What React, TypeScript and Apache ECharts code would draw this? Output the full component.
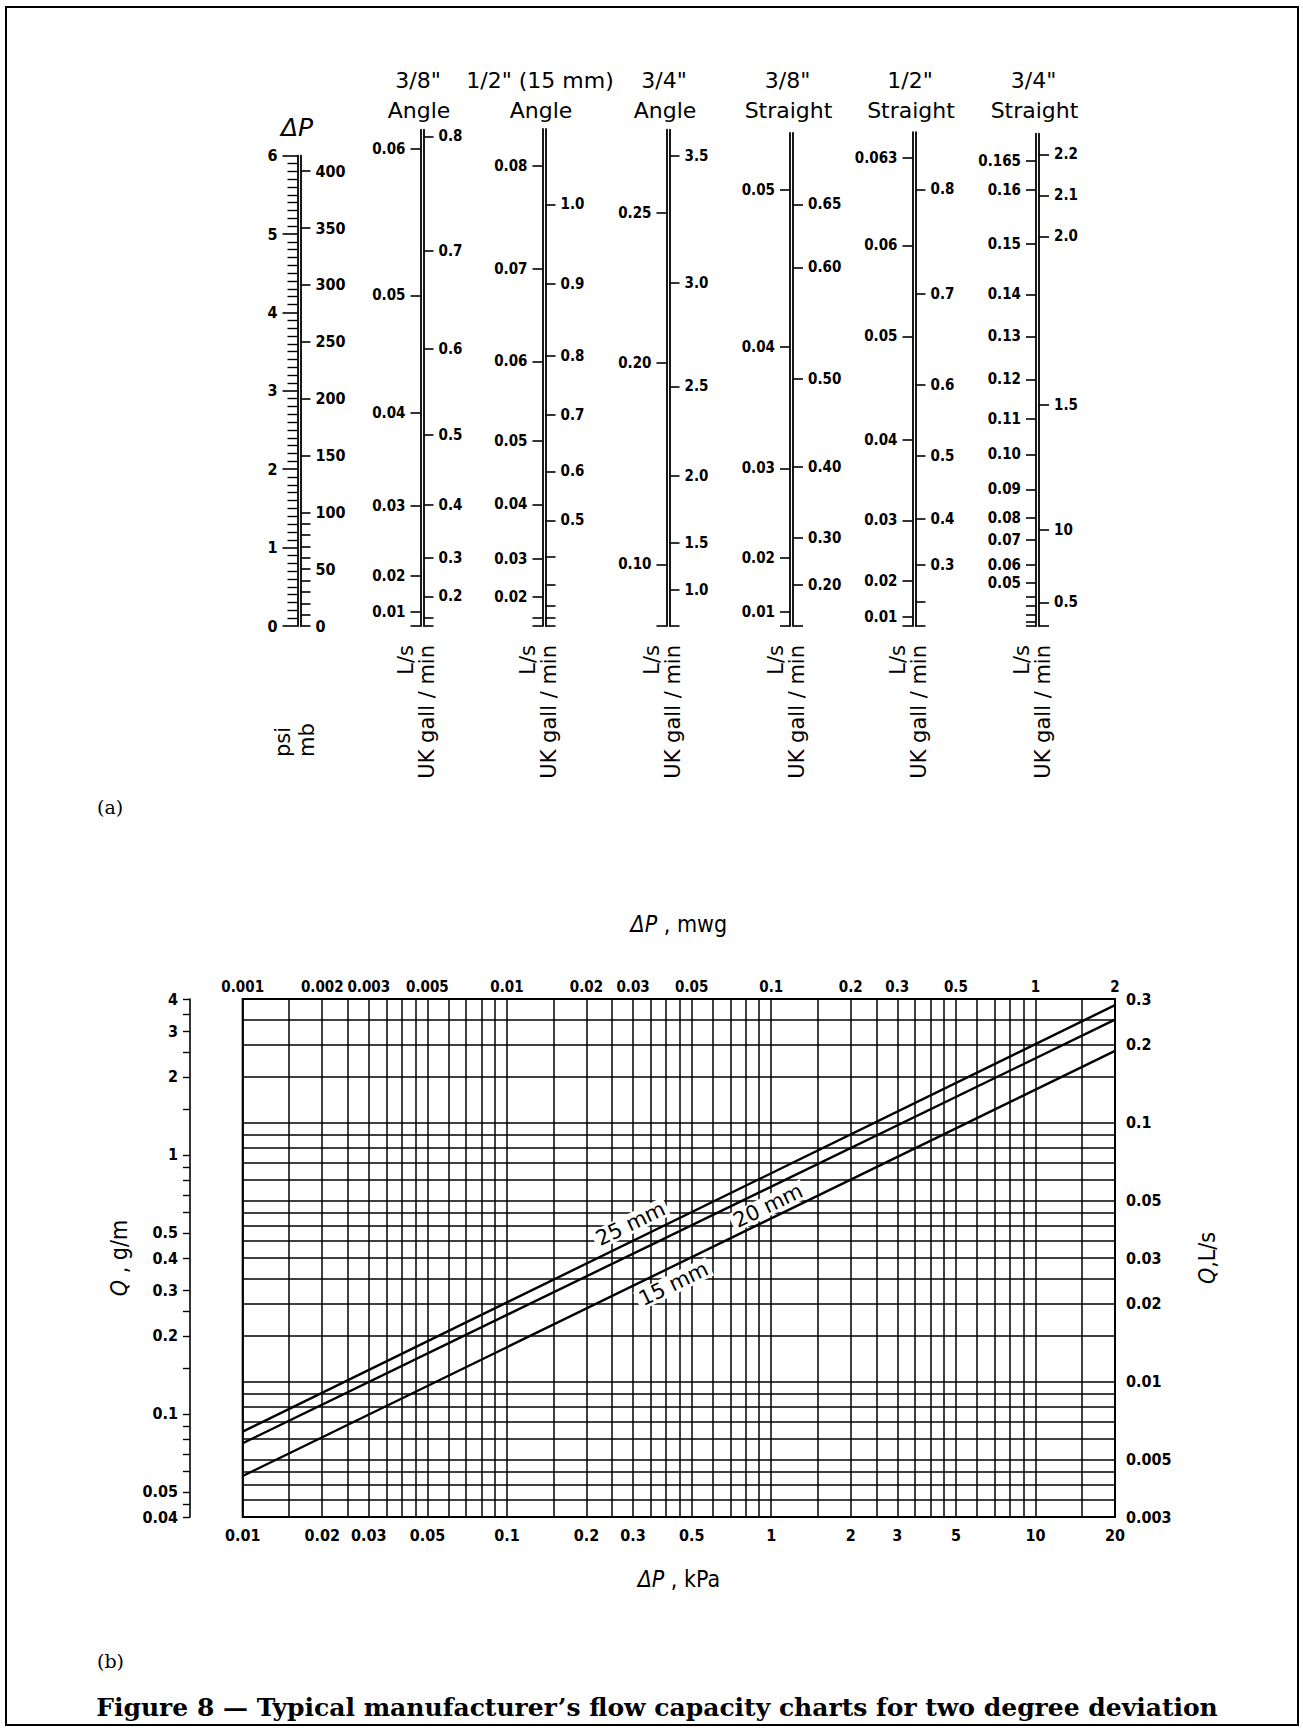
import React, { useEffect, useRef } from 'react';
import * as echarts from 'echarts';

const FONT = "'DejaVu Sans Condensed', 'DejaVu Sans', sans-serif";
const WIDE = "'DejaVu Sans', sans-serif";
const SERIF = "'DejaVu Serif', 'Liberation Serif', serif";

// ================= (a) nomogram data =================
// Pressure scale
const PSI_TO_MB = 68.9476;
const DP_PSI_MAX = 6;
const MB_TICKS = [0, 10, 20, 30, 40, 50, 60, 70, 80, 90, 100, 150, 200, 250, 300, 350, 400];
const MB_LABELS = [0, 50, 100, 150, 200, 250, 300, 350, 400];

// Flow scales: tick labels and the pressure (psi) at which each one sits on the shared ΔP scale
const A38_LS = ['0.06', '0.05', '0.04', '0.03', '0.02', '0.01', ''];
const A38_LS_PSI = [6.085, 4.217, 2.714, 1.529, 0.641, 0.177, 0];
const A38_GAL = ['0.8', '0.7', '0.6', '0.5', '0.4', '0.3', '0.2', '', ''];
const A38_GAL_PSI = [6.245, 4.787, 3.535, 2.441, 1.543, 0.868, 0.377, 0.104, 0];

const A12_LS = ['0.08', '0.07', '0.06', '0.05', '0.04', '0.03', '0.02', '', ''];
const A12_LS_PSI = [5.866, 4.559, 3.375, 2.358, 1.552, 0.856, 0.369, 0.103, 0];
const A12_GAL = ['1.0', '0.9', '0.8', '0.7', '0.6', '0.5', '', '', '', '', ''];
const A12_GAL_PSI = [5.379, 4.363, 3.443, 2.691, 1.972, 1.347, 0.88, 0.528, 0.254, 0.103, 0];

const A34_LS = ['0.25', '0.20', '0.10', ''];
const A34_LS_PSI = [5.265, 3.352, 0.787, 0];
const A34_GAL = ['3.5', '3.0', '2.5', '2.0', '1.5', '1.0', ''];
const A34_GAL_PSI = [5.994, 4.377, 3.056, 1.917, 1.06, 0.459, 0];

const S38_LS = ['0.05', '0.04', '0.03', '0.02', '0.01', ''];
const S38_LS_PSI = [5.561, 3.557, 2.01, 0.869, 0.177, 0];
const S38_GAL = ['0.65', '0.60', '0.50', '0.40', '0.30', '0.20', ''];
const S38_GAL_PSI = [5.379, 4.573, 3.156, 2.031, 1.12, 0.528, 0];

const S12_LS = ['0.063', '0.06', '0.05', '0.04', '0.03', '0.02', '0.01', ''];
const S12_LS_PSI = [5.971, 4.855, 3.694, 2.372, 1.347, 0.573, 0.12, 0];
const S12_GAL = ['0.8', '0.7', '0.6', '0.5', '0.4', '0.3', '', ''];
const S12_GAL_PSI = [5.57, 4.24, 3.079, 2.167, 1.37, 0.778, 0.314, 0];

const S34_LS = ['0.165', '0.16', '0.15', '0.14', '0.13', '0.12', '0.11', '0.10', '0.09', '0.08', '0.07', '0.06', '0.05', '', '', '', '', ''];
const S34_LS_PSI = [5.935, 5.561, 4.878, 4.231, 3.694, 3.147, 2.646, 2.19, 1.744, 1.379, 1.097, 0.778, 0.55, 0.369, 0.254, 0.14, 0.05, 0];
const S34_GAL = ['2.2', '2.1', '2.0', '1.5', '10', '0.5', ''];
const S34_GAL_PSI = [6.017, 5.492, 4.969, 2.819, 1.224, 0.3, 0];

const SCALE_HEAD = ['3/8"', '1/2" (15 mm)', '3/4"', '3/8"', '1/2"', '3/4"'];
const SCALE_KIND = ['Angle', 'Angle', 'Angle', 'Straight', 'Straight', 'Straight'];
const SCALE_TOP_PSI = [6.33, 6.34, 6.33, 6.29, 6.3, 6.28];

// ================= (b) chart data =================
const KPA_LABELS = [0.01, 0.02, 0.03, 0.05, 0.1, 0.2, 0.3, 0.5, 1, 2, 3, 5, 10, 20];
const MWG_LABELS = [0.001, 0.002, 0.003, 0.005, 0.01, 0.02, 0.03, 0.05, 0.1, 0.2, 0.3, 0.5, 1, 2];
const GM_LABELS = [0.04, 0.05, 0.1, 0.2, 0.3, 0.4, 0.5, 1, 2, 3, 4];
const GM_TICKS = [0.04, 0.045, 0.05, 0.06, 0.07, 0.08, 0.09, 0.1, 0.15, 0.2, 0.25, 0.3, 0.4, 0.5, 0.6, 0.7, 0.8, 0.9, 1, 1.5, 2, 2.5, 3, 3.5, 4];
const LS_LABELS = [0.003, 0.005, 0.01, 0.02, 0.03, 0.05, 0.1, 0.2, 0.3];
const GRID_MANTISSA = [1, 1.5, 2, 2.5, 3, 3.5, 4, 4.5, 5, 6, 7, 8, 9];

const PIPE_SIZES = ['25 mm', '20 mm', '15 mm'];
const KPA_ENDS = [0.01, 20];
const Q25_LS = [0.00641, 0.284];
const Q20_LS = [0.00578, 0.2496];
const Q15_LS = [0.00432, 0.1892];
const LABEL_KPA = [0.312, 0.908, 0.4];
const LABEL_LS = [0.0358, 0.0551, 0.0273];

// ================= layout (pixels) =================
const NOMO_X = [299, 422, 544, 668, 791.5, 914, 1037.5];
const NOMO_Y0 = 626;
const PX_PSI = 78.4;
const NOMO_W = 3;
const PLOT = { left: 242.7, top: 999, width: 872.3, height: 518 };
const LABEL_SHIFT = [-16, 18, 17];

const near = (a: number, b: number) => Math.abs(a - b) <= 1e-9 + 1e-6 * Math.abs(a);
const lookup = (vals: number[], labels: string[]) => (v: number) => {
  const k = vals.findIndex((a) => near(a, v));
  return k >= 0 ? labels[k] : '';
};
const numLabel = (vals: number[]) => lookup(vals, vals.map((v) => String(v)));
const padLo = (v: number) => v * (1 - 1e-9);
const padHi = (v: number) => v * (1 + 1e-9);

function logGrid(min: number, max: number) {
  const out: number[] = [];
  for (let e = -4; e <= 2; e++) {
    for (const m of GRID_MANTISSA) {
      const v = parseFloat((m * Math.pow(10, e)).toPrecision(6));
      if (v >= min * (1 - 1e-9) && v <= max * (1 + 1e-9)) out.push(v);
    }
  }
  return out;
}

const BLACK = '#000';
const AXLINE = { show: true, onZero: false, lineStyle: { color: BLACK, width: 1.8 } };
const TICKLINE = { color: BLACK, width: 1.6 };
const TICKFONT = { color: BLACK, fontFamily: FONT, fontSize: 15, fontWeight: 'bold' as const };

function buildOption() {
  const grids: any[] = [];
  const xAxes: any[] = [];
  const yAxes: any[] = [];

  // ---- ΔP scale (grid 0)
  grids.push({
    left: NOMO_X[0] - NOMO_W / 2,
    width: NOMO_W,
    top: NOMO_Y0 - DP_PSI_MAX * PX_PSI,
    height: DP_PSI_MAX * PX_PSI,
    outerBoundsMode: 'none',
  });
  xAxes.push({ gridIndex: 0, type: 'value', show: false, min: 0, max: 1 });
  yAxes.push({
    gridIndex: 0, type: 'value', position: 'left', min: 0, max: DP_PSI_MAX, interval: 1,
    axisLine: AXLINE,
    axisTick: { show: true, length: 15, lineStyle: TICKLINE },
    minorTick: { show: true, splitNumber: 10, length: 10, lineStyle: { color: BLACK, width: 1.4 } },
    axisLabel: { ...TICKFONT, fontSize: 16, margin: 20, hideOverlap: false },
    splitLine: { show: false }, minorSplitLine: { show: false },
  });
  yAxes.push({
    gridIndex: 0, type: 'value', position: 'right', min: 0, max: DP_PSI_MAX * PSI_TO_MB,
    axisLine: AXLINE,
    axisTick: { show: true, length: 10, customValues: MB_TICKS, lineStyle: TICKLINE },
    axisLabel: { ...TICKFONT, fontSize: 16, margin: 15, customValues: MB_LABELS, formatter: numLabel(MB_LABELS), hideOverlap: false },
    splitLine: { show: false },
  });

  // ---- flow scales (grids 1..6)
  const flow = [
    [A38_LS, A38_LS_PSI, A38_GAL, A38_GAL_PSI],
    [A12_LS, A12_LS_PSI, A12_GAL, A12_GAL_PSI],
    [A34_LS, A34_LS_PSI, A34_GAL, A34_GAL_PSI],
    [S38_LS, S38_LS_PSI, S38_GAL, S38_GAL_PSI],
    [S12_LS, S12_LS_PSI, S12_GAL, S12_GAL_PSI],
    [S34_LS, S34_LS_PSI, S34_GAL, S34_GAL_PSI],
  ] as [string[], number[], string[], number[]][];

  const flowAxis = (gi: number, side: string, labels: string[], pos: number[], top: number) => ({
    gridIndex: gi, type: 'value', position: side, min: 0, max: top,
    axisLine: AXLINE,
    axisTick: { show: true, length: 10, customValues: pos, lineStyle: TICKLINE },
    axisLabel: {
      ...TICKFONT, margin: 15, hideOverlap: false,
      customValues: pos.filter((_, k) => labels[k] !== ''),
      formatter: lookup(pos, labels),
    },
    splitLine: { show: false },
  });

  flow.forEach(([ls, lsPos, gal, galPos], k) => {
    const gi = k + 1;
    const top = SCALE_TOP_PSI[k];
    grids.push({
      left: NOMO_X[gi] - NOMO_W / 2,
      width: NOMO_W,
      top: NOMO_Y0 - top * PX_PSI,
      height: top * PX_PSI,
      outerBoundsMode: 'none',
    });
    xAxes.push({ gridIndex: gi, type: 'value', show: false, min: 0, max: 1 });
    yAxes.push(flowAxis(gi, 'left', ls, lsPos, top));
    yAxes.push(flowAxis(gi, 'right', gal, galPos, top));
  });

  // ---- (b) log-log chart (grid 7)
  const GB = 7;
  grids.push({
    left: PLOT.left, top: PLOT.top, width: PLOT.width, height: PLOT.height,
    show: true, borderColor: BLACK, borderWidth: 2, backgroundColor: 'transparent',
    outerBoundsMode: 'none',
  });
  const nameRich = { i: { fontStyle: 'italic', fontFamily: FONT, fontSize: 23, color: BLACK } };
  const nameStyle = { color: BLACK, fontFamily: FONT, fontSize: 23, rich: nameRich };
  const labelFont = { color: BLACK, fontFamily: FONT, fontSize: 16, fontWeight: 'bold' as const };
  const GRIDLINE = { color: BLACK, width: 1.5 };

  xAxes.push({
    gridIndex: GB, type: 'log', position: 'bottom', min: padLo(0.01), max: padHi(20),
    axisLine: { show: false },
    axisTick: { show: false, customValues: logGrid(0.01, 20) },
    splitLine: { show: true, lineStyle: GRIDLINE },
    minorSplitLine: { show: false },
    axisLabel: { ...labelFont, margin: 10, hideOverlap: false, customValues: KPA_LABELS, formatter: numLabel(KPA_LABELS) },
    name: '{i|ΔP} , kPa', nameLocation: 'middle', nameGap: 50, nameTextStyle: nameStyle, nameMoveOverlap: false,
  });
  xAxes.push({
    gridIndex: GB, type: 'log', position: 'top', min: padLo(0.001), max: padHi(2),
    axisLine: { show: false }, axisTick: { show: false }, splitLine: { show: false },
    axisLabel: { ...labelFont, fontSize: 15, margin: 5, hideOverlap: false, customValues: MWG_LABELS, formatter: numLabel(MWG_LABELS) },
    name: '{i|ΔP} , mwg', nameLocation: 'middle', nameGap: 64, nameTextStyle: nameStyle, nameMoveOverlap: false,
  });
  yAxes.push({
    gridIndex: GB, type: 'log', position: 'left', offset: PLOT.left - 190, min: padLo(0.04), max: padHi(4),
    axisLine: { show: true, onZero: false, lineStyle: { color: BLACK, width: 1.6 } },
    axisTick: { show: true, length: 7, customValues: GM_TICKS, lineStyle: { color: BLACK, width: 1.4 } },
    splitLine: { show: false },
    axisLabel: { ...labelFont, margin: 12, hideOverlap: false, customValues: GM_LABELS, formatter: numLabel(GM_LABELS) },
    name: '{i|Q} , g/m', nameLocation: 'middle', nameRotate: 90, nameGap: 60, nameTextStyle: nameStyle, nameMoveOverlap: false,
  });
  yAxes.push({
    gridIndex: GB, type: 'log', position: 'right', min: padLo(0.003), max: padHi(0.3),
    axisLine: { show: false },
    axisTick: { show: false, customValues: logGrid(0.003, 0.3) },
    splitLine: { show: true, lineStyle: GRIDLINE },
    axisLabel: { ...labelFont, margin: 11, hideOverlap: false, customValues: LS_LABELS, formatter: numLabel(LS_LABELS) },
    name: '{i|Q},L/s', nameLocation: 'middle', nameRotate: 90, nameGap: 80, nameTextStyle: nameStyle, nameMoveOverlap: false,
  });

  const lines = [Q25_LS, Q20_LS, Q15_LS];
  const series: any[] = PIPE_SIZES.map((name, k) => ({
    type: 'line', name, xAxisIndex: 7, yAxisIndex: 15,
    data: KPA_ENDS.map((x, j) => [x, lines[k][j]]),
    symbol: 'none', lineStyle: { color: BLACK, width: 2.4 }, z: 6, silent: true,
  }));
  series.push({
    type: 'scatter', xAxisIndex: 7, yAxisIndex: 15, symbolSize: 1, z: 5, silent: true,
    itemStyle: { color: 'rgba(0,0,0,0)' },
    label: {
      show: true, position: 'inside', rotate: 26, color: BLACK, opacity: 1, fontFamily: WIDE, fontSize: 21,
      backgroundColor: '#fff', padding: [0, 3], lineHeight: 20,
    },
    data: PIPE_SIZES.map((name, k) => ({
      value: [LABEL_KPA[k], LABEL_LS[k]],
      label: { formatter: name, offset: [0, LABEL_SHIFT[k]] },
    })),
  });

  // ---- texts
  const txt = (text: string, x: number, y: number, extra: any = {}, rot = 0) => ({
    type: 'text', x, y, rotation: rot, silent: true,
    style: { text, fill: BLACK, fontFamily: WIDE, fontSize: 22, align: 'center', verticalAlign: 'middle', ...extra },
  });
  const graphic: any[] = [
    { type: 'rect', silent: true, shape: { x: 6, y: 7, width: 1292, height: 1718 }, style: { fill: 'rgba(0,0,0,0)', stroke: BLACK, lineWidth: 2 } },
    txt('ΔP', NOMO_X[0] - 2, 127, { fontStyle: 'italic', fontSize: 25 }),
    txt('psi', 283, 757, { align: 'left', fontSize: 21 }, Math.PI / 2),
    txt('mb', 307, 757, { align: 'left', fontSize: 21 }, Math.PI / 2),
    txt('(a)', 97, 807, { align: 'left', fontFamily: SERIF, fontSize: 19 }),
    txt('(b)', 97, 1661, { align: 'left', fontFamily: SERIF, fontSize: 19 }),
    txt('Figure 8 — Typical manufacturer’s flow capacity charts for two degree deviation', 657, 1707,
      { fontFamily: SERIF, fontWeight: 'bold', fontSize: 25 }),
  ];
  for (let k = 0; k < 6; k++) {
    const x = NOMO_X[k + 1];
    graphic.push(txt(SCALE_HEAD[k], x - 4, 80));
    graphic.push(txt(SCALE_KIND[k], x - 3, 110));
    graphic.push(txt('L/s', x - 16, 645, { align: 'right', fontSize: 21 }, Math.PI / 2));
    graphic.push(txt('UK gall / min', x + 5, 645, { align: 'right', fontSize: 21 }, Math.PI / 2));
  }

  return {
    animation: false,
    backgroundColor: '#fff',
    grid: grids,
    xAxis: xAxes,
    yAxis: yAxes,
    series,
    graphic,
  };
}

export default function App() {
  const ref = useRef<HTMLDivElement>(null);
  useEffect(() => {
    document.body.style.margin = '0';
    const chart = echarts.init(ref.current!, null, { renderer: 'svg' });
    chart.setOption(buildOption() as any);
    return () => chart.dispose();
  }, []);
  return <div ref={ref} style={{ position: 'fixed', left: 0, top: 0, width: 1303, height: 1731, background: '#fff' }} />;
}
